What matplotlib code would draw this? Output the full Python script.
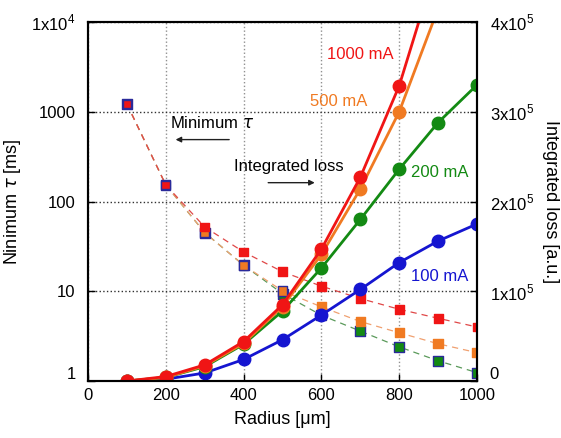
import numpy as np
import matplotlib.pyplot as plt
import matplotlib.transforms as mtransforms

plt.rcParams['font.family'] = ['Liberation Sans', 'DejaVu Sans']
plt.rcParams['mathtext.fontset'] = 'custom'
plt.rcParams['mathtext.rm'] = 'Liberation Sans'

# radius in um
radius = [100, 200, 300, 400, 500, 600, 700, 800, 900, 1000]

# minimum tau [ms] (left, log axis)
tau_1000 = [1220, 153, 52, 27.4, 16.5, 11.4, 8.3, 6.3, 5.0, 4.0]
tau_500 = [1220, 153, 45, 19.5, 10.1, 6.7, 4.6, 3.45, 2.6, 2.07]
tau_200 = [1220, 153, 45, 19.5, 9.4, 5.4, 3.6, 2.4, 1.68, 1.24]

# integrated loss [a.u.] (right axis)
radius_hi = [100, 200, 300, 400, 500, 600, 700, 800, 900]
loss_1000 = [0.0, 0.05e5, 0.18e5, 0.44e5, 0.85e5, 1.47e5, 2.27e5, 3.29e5, 4.7e5]
loss_500 = [0.0, 0.04e5, 0.17e5, 0.42e5, 0.83e5, 1.41e5, 2.14e5, 3.0e5, 4.15e5]
loss_200 = [0.0, 0.04e5, 0.16e5, 0.41e5, 0.78e5, 1.26e5, 1.8e5, 2.36e5, 2.88e5, 3.3e5]
loss_100 = [0.0, 0.02e5, 0.09e5, 0.24e5, 0.46e5, 0.735e5, 1.02e5, 1.32e5, 1.56e5, 1.75e5]

red = '#f01515'
orange = '#f07a22'
green = '#138a13'
blue = '#1515d0'
edge = '#2a2a9a'

fig = plt.figure(figsize=(5.61, 4.38), dpi=100)
ax = fig.add_axes([0.1569, 0.1301, 0.6934, 0.8196])
ax2 = ax.twinx()

# minimum tau, dashed with squares
ax.plot(radius, tau_200, '--', color='#5a9a5a', lw=0.9, dashes=(5, 4))
ax.plot(radius, tau_500, '--', color='#f0a070', lw=0.9, dashes=(5, 4))
ax.plot(radius, tau_1000, '--', color='#e04848', lw=0.9, dashes=(5, 4))
ax.scatter(radius[2:], tau_200[2:], marker='s', s=55, c=green, edgecolors=edge, linewidths=1.0, zorder=3)
ax.scatter(radius, tau_500, marker='s', s=45, c=orange,
           edgecolors=[edge] * 5 + [orange] * 5, linewidths=1.0, zorder=3)
ax.scatter(radius, tau_1000, marker='s', s=40, c=red,
           edgecolors=[edge] * 2 + [red] * 8, linewidths=1.0, zorder=4)

ax.set_yscale('log')
ax.set_xlim(0, 1000)
ax.set_ylim(1, 1e4)
ax.set_xticks([0, 200, 400, 600, 800, 1000])
ax.set_yticks([1, 10, 100, 1000, 1e4])
ax.set_yticklabels(['1', '10', '100', '1000', r'1x10$^4$'])
ax.minorticks_off()
ax.tick_params(direction='in', labelsize=12, length=5, width=1)
ax.tick_params(axis='y', pad=9)
ax.tick_params(axis='x', pad=5)
ax.grid(axis='x', color='#909090', linestyle=':', linewidth=1)
ax.grid(axis='y', color='#303030', linestyle=':', linewidth=1)

# integrated loss, solid with circles
ax2.plot(radius, loss_100, '-o', color=blue, lw=2, ms=9)
ax2.plot(radius, loss_200, '-o', color=green, lw=2, ms=9)
ax2.plot(radius_hi, loss_500, '-o', color=orange, lw=2, ms=9)
ax2.plot(radius_hi, loss_1000, '-o', color=red, lw=2, ms=9)
ax2.set_ylim(0, 4e5)
ax2.set_yticks([0, 1e5, 2e5, 3e5, 4e5])
ax2.set_yticklabels(['0', r'1x10$^5$', r'2x10$^5$', r'3x10$^5$', r'4x10$^5$'])
ax2.tick_params(direction='in', labelsize=12, length=5, width=1, pad=9)

# lift the bottom labels a bit so they clear the x tick labels
lift = mtransforms.ScaledTranslation(0, 6 / 72, fig.dpi_scale_trans)
ax.get_yticklabels()[0].set_transform(ax.get_yticklabels()[0].get_transform() + lift)
ax2.get_yticklabels()[0].set_transform(ax2.get_yticklabels()[0].get_transform() + lift)

for a in (ax, ax2):
    for s in a.spines.values():
        s.set_linewidth(1.5)

ax.set_xlabel('Radius [μm]', fontsize=13, labelpad=6)
ax.set_ylabel(r'Ninimum $\tau$ [ms]', fontsize=13, labelpad=6)
ax2.set_ylabel('Integrated loss [a.u.]', fontsize=13, rotation=-90, labelpad=18)

# series labels
ax2.text(699, 3.64e5, '1000 mA', color=red, fontsize=12, ha='center', va='center')
ax2.text(645, 3.12e5, '500 mA', color=orange, fontsize=12, ha='center', va='center')
ax2.text(905, 2.32e5, '200 mA', color=green, fontsize=12, ha='center', va='center')
ax2.text(905, 1.17e5, '100 mA', color=blue, fontsize=12, ha='center', va='center')

# axis hints
ax2.text(212, 2.87e5, r'Minimum $\tau$', fontsize=12, ha='left', va='center')
ax2.annotate('', xy=(218, 2.69e5), xytext=(370, 2.69e5),
             arrowprops=dict(arrowstyle='-|>', color='#202020', lw=1, mutation_scale=8))
ax2.text(375, 2.39e5, 'Integrated loss', fontsize=12, ha='left', va='center')
ax2.annotate('', xy=(590, 2.21e5), xytext=(456, 2.21e5),
             arrowprops=dict(arrowstyle='-|>', color='#202020', lw=1, mutation_scale=8))

fig.savefig('out.png', dpi=100)
